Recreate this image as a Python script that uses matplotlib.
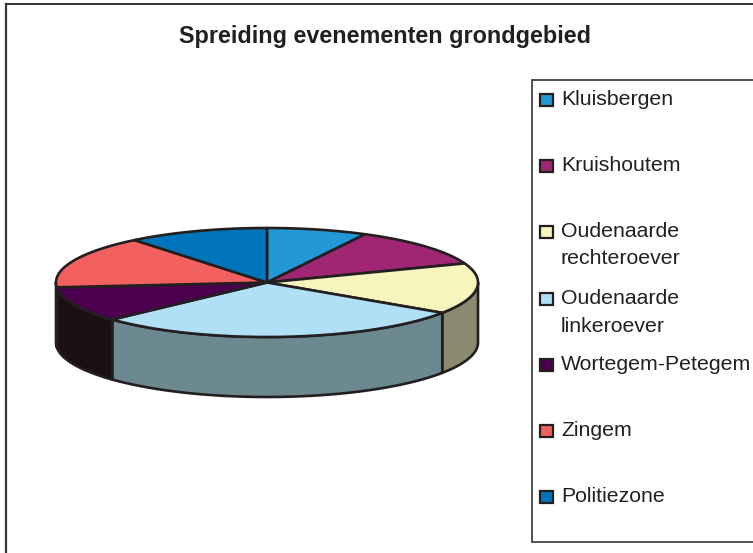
import numpy as np
import matplotlib
matplotlib.use('Agg')
import matplotlib.pyplot as plt
from matplotlib.patches import Polygon, Rectangle

plt.rcParams['font.family'] = ['Liberation Sans', 'DejaVu Sans']

# Data
labels = ['Kluisbergen', 'Kruishoutem', 'Oudenaarde\nrechteroever', 'Oudenaarde\nlinkeroever',
          'Wortegem-Petegem', 'Zingem', 'Politiezone']
values = [7.7, 11.6, 15.1, 28.7, 10.5, 15.6, 10.8]
colors = ['#2398d6', '#a02572', '#f7f4bd', '#b0e0f5', '#4b0050', '#f26060', '#0175bb']
side_colors = ['#14587c', '#5e1643', '#8a8b6e', '#6c8890', '#1a1014', '#8e3838', '#01456e']
legend_y = [99, 165, 231, 298, 364, 430, 496]

# Pie geometry in pixels
cx, cy = 267, 282.5
rx, ry = 211, 54.5
depth = 60
edge = '#231f20'


def rim(a0, a1):
    """Points on the top ellipse, angles clockwise from 12 o'clock."""
    t = np.radians(np.linspace(a0, a1, 80))
    return cx + rx * np.sin(t), cy - ry * np.cos(t)


fig = plt.figure(figsize=(7.53, 5.53), dpi=100)
ax = fig.add_axes([0, 0, 1, 1])
ax.set_xlim(0, 753)
ax.set_ylim(553, 0)
ax.axis('off')

# Chart frame
ax.plot([6, 6], [4, 553], color='#3a3a3a', lw=1.6)
ax.plot([6, 753], [4, 4], color='#333333', lw=1.4)

ax.text(385, 36, 'Spreiding evenementen grondgebied', ha='center', va='center',
        fontsize=16.8, fontweight='bold', color='#231f20')

# Slices
edges = np.concatenate([[0], np.cumsum(values)]) / sum(values) * 360

# Outer wall, only the front half is visible
for i in range(len(values)):
    a0, a1 = max(edges[i], 90), min(edges[i + 1], 270)
    if a1 <= a0:
        continue
    x, y = rim(a0, a1)
    pts = np.vstack([np.c_[x, y], np.c_[x[::-1], y[::-1] + depth]])
    ax.add_patch(Polygon(pts, closed=True, fc=side_colors[i], ec=edge, lw=1.9, joinstyle='round'))

# Top face
for i in range(len(values)):
    x, y = rim(edges[i], edges[i + 1])
    pts = np.vstack([[cx, cy], np.c_[x, y]])
    ax.add_patch(Polygon(pts, closed=True, fc=colors[i], ec=edge, lw=1.9, joinstyle='round'))

# Legend
ax.add_patch(Rectangle((532.5, 80), 230, 462, fc='white', ec='#333333', lw=1.2))
for label, color, y in zip(labels, colors, legend_y):
    ax.add_patch(Rectangle((540, y - 5.5), 13, 12, fc=color, ec=edge, lw=1.6))
    ax.text(561, y + 0.5, label.split('\n')[0], ha='left', va='center', fontsize=15.3, color='#231f20')
    if '\n' in label:
        ax.text(561, y + 28, label.split('\n')[1], ha='left', va='center', fontsize=15.3, color='#231f20')

plt.savefig('out.png', dpi=100)
plt.close(fig)
